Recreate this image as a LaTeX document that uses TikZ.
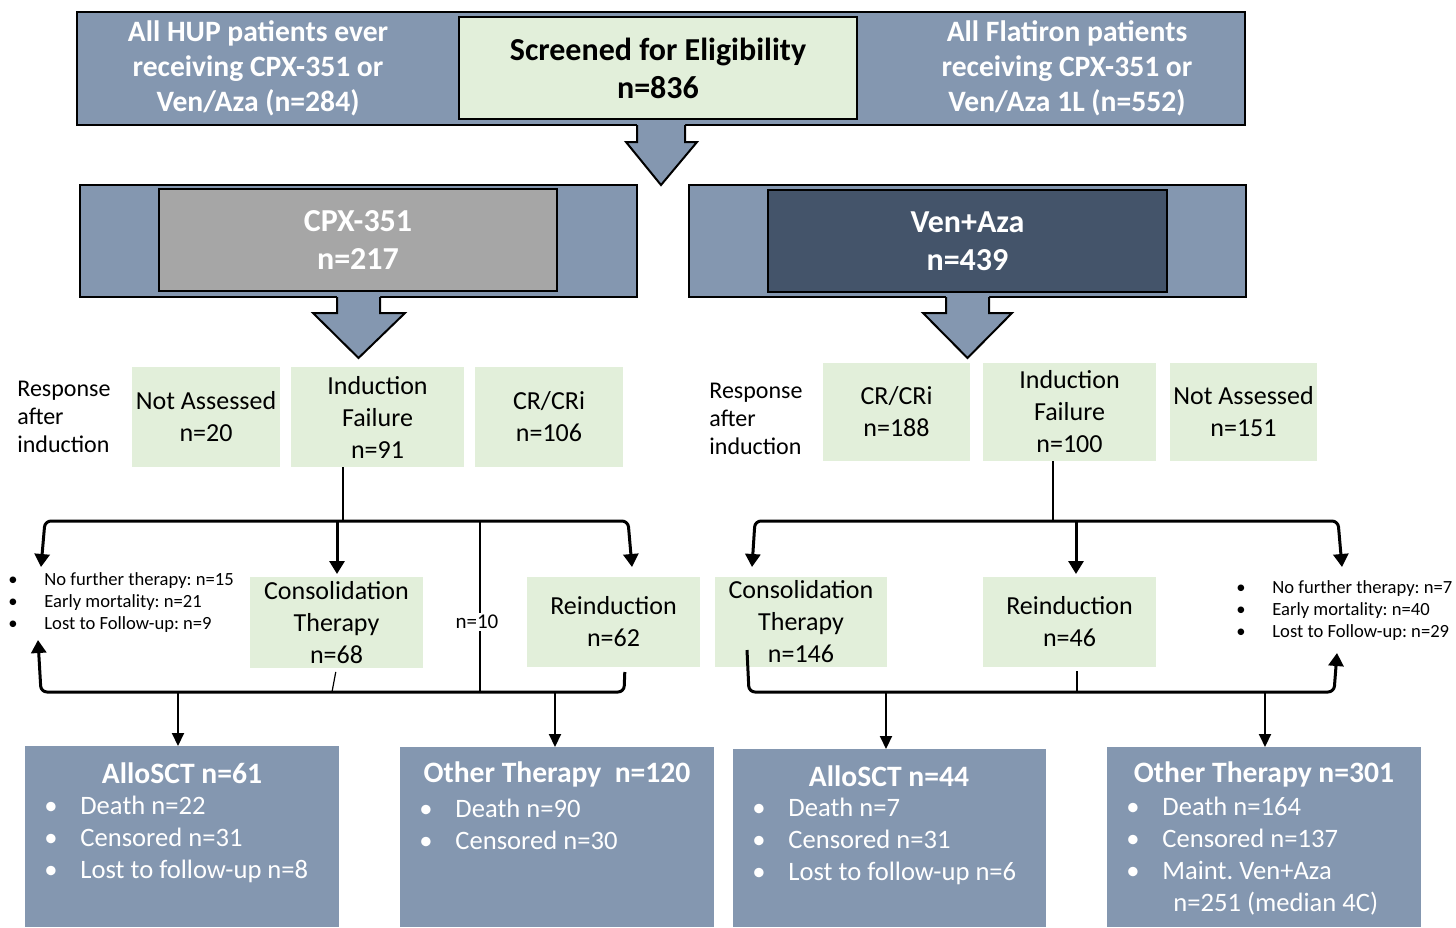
\documentclass[tikz,border=0pt]{standalone}
\usepackage{fontspec}
\setmainfont{Carlito}
\usetikzlibrary{arrows.meta,calc}
\definecolor{steel}{HTML}{8497B0}
\definecolor{lgreen}{HTML}{E2EFDA}
\definecolor{midgray}{HTML}{A6A6A6}
\definecolor{darkslate}{HTML}{44546A}
\frenchspacing
\begin{document}
\begin{tikzpicture}[x=0.5pt,y=-0.5pt,
  bx/.style 2 args={minimum width=#1*0.5pt, minimum height=#2*0.5pt, inner sep=0pt, outer sep=0pt},
  outerbox/.style={draw=black, line width=1pt, fill=steel},
  innerbox/.style={draw=black, line width=1pt, align=center, font=\bfseries\fontsize{16}{19}\selectfont},
  sidetext/.style={text=white, align=center, font=\bfseries\fontsize{14.8}{17.5}\selectfont},
  greenbox/.style={fill=lgreen, align=center, font=\fontsize{13}{16}\selectfont},
  resp/.style={align=left, inner sep=0pt, anchor=west, font=\fontsize{12}{14}\selectfont},
  smallbul/.style={align=left, inner sep=0pt, anchor=west, font=\fontsize{9.3}{11}\selectfont},
  botbox/.style={fill=steel},
  bottitle/.style={text=white, inner sep=0pt, font=\bfseries\fontsize{14.8}{16}\selectfont},
  botlist/.style={text=white, align=left, inner sep=0pt, anchor=west, font=\fontsize{13.3}{16}\selectfont},
  heavy/.style={line width=1.5pt, rounded corners=3pt, line join=round},
  tip/.style={-{Triangle[width=7.5pt,length=6.5pt]}},
  thinline/.style={line width=0.6pt},
  downarr/.style={line width=1pt, -{Triangle[width=6pt,length=6.5pt]}},
  blockfill/.style={fill=steel},
  blockdraw/.style={draw=black, line width=1pt, line join=miter}
]
\useasboundingbox (0,0) rectangle (1456,927);

% ---------- top row ----------
\node[outerbox, bx={1168}{113}] (top) at (661,68.5) {};
\node[innerbox, fill=lgreen, bx={398}{102}] (screen) at (658,68) {Screened for Eligibility\\n=836};
\node[sidetext] (hup) at (258,68.5) {All HUP patients ever\\receiving CPX-351 or\\Ven/Aza (n=284)};
\node[sidetext] (flat) at (1067,68.5) {All Flatiron patients\\receiving CPX-351 or\\Ven/Aza 1L (n=552)};

% block arrow 1
\fill[blockfill] (637,123.5) -- (637,142) -- (626,142) -- (661,185) -- (697,142) -- (685,142) -- (685,123.5) -- cycle;
\draw[blockdraw] (637,125) -- (637,142) -- (626,142) -- (661,185) -- (697,142) -- (685,142) -- (685,125);

% ---------- arm boxes ----------
\node[outerbox, bx={557}{112}] (cpxo) at (358.5,241) {};
\node[innerbox, fill=midgray, text=white, bx={398}{102}] (cpx) at (358,240) {CPX-351\\n=217};
\node[outerbox, bx={557}{112}] (veno) at (967.5,241) {};
\node[innerbox, fill=darkslate, text=white, bx={399}{102}] (ven) at (967.5,241) {Ven+Aza\\n=439};

% block arrows 2 and 3
\fill[blockfill] (337,296) -- (337,313) -- (313,313) -- (358.5,358) -- (405,313) -- (380,313) -- (380,296) -- cycle;
\draw[blockdraw] (337,297) -- (337,313) -- (313,313) -- (358.5,358) -- (405,313) -- (380,313) -- (380,297);
\fill[blockfill] (946,296) -- (946,313) -- (923,313) -- (967.5,358) -- (1012,313) -- (989,313) -- (989,296) -- cycle;
\draw[blockdraw] (946,297) -- (946,313) -- (923,313) -- (967.5,358) -- (1012,313) -- (989,313) -- (989,297);

% ---------- response row ----------
\node[resp] (resp1) at (17,417) {Response\\after\\induction};
\node[greenbox, bx={148}{100}] (na1) at (206,417) {Not Assessed\\n=20};
\node[greenbox, bx={173}{100}] (if1) at (377.5,417) {Induction\\Failure\\n=91};
\node[greenbox, bx={148}{100}] (cr1) at (549,417) {CR/CRi\\n=106};

\node[resp] (resp2) at (709,419) {Response\\after\\induction};
\node[greenbox, bx={147}{98}] (cr2) at (896.5,412) {CR/CRi\\n=188};
\node[greenbox, bx={173}{98}] (if2) at (1069.5,412) {Induction\\Failure\\n=100};
\node[greenbox, bx={147}{98}] (na2) at (1243.5,412) {Not Assessed\\n=151};

% ---------- second row ----------
\node[smallbul] (bulL) at (8,603) {\makebox[18pt][l]{\textbullet}No further therapy: n=15\\\makebox[18pt][l]{\textbullet}Early mortality: n=21\\\makebox[18pt][l]{\textbullet}Lost to Follow-up: n=9};
\node[greenbox, bx={173}{91}] (cons1) at (336.5,622.5) {Consolidation\\Therapy\\n=68};
\node[inner sep=1pt, font=\fontsize{10.5}{12}\selectfont] (n10) at (477,622) {n=10};
\node[greenbox, bx={173}{90}] (rein1) at (613.5,622) {Reinduction\\n=62};

\node[greenbox, bx={172}{90}] (cons2) at (801,622) {Consolidation\\Therapy\\n=146};
\node[greenbox, bx={173}{90}] (rein2) at (1069.5,622) {Reinduction\\n=46};
\node[smallbul] (bulR) at (1236,611) {\makebox[18pt][l]{\textbullet}No further therapy: n=7\\\makebox[18pt][l]{\textbullet}Early mortality: n=40\\\makebox[18pt][l]{\textbullet}Lost to Follow-up: n=29};

% ---------- bottom boxes ----------
\node[botbox, bx={314}{181}] (b1) at (182,836.5) {};
\node[botbox, bx={314}{180}] (b2) at (557,837) {};
\node[botbox, bx={313}{178}] (b3) at (889.5,838) {};
\node[botbox, bx={314}{180}] (b4) at (1264,837) {};

\node[bottitle] (t1) at (182,773) {AlloSCT n=61};
\node[bottitle] (t2) at (557,774) {Other Therapy\ \ n=120};
\node[bottitle] (t3) at (889,776) {AlloSCT n=44};
\node[bottitle] (t4) at (1264,774) {Other Therapy n=301};

\node[botlist] (l1) at (44,839) {\makebox[18pt][l]{\textbullet}Death n=22\\\makebox[18pt][l]{\textbullet}Censored n=31\\\makebox[18pt][l]{\textbullet}Lost to follow-up n=8};
\node[botlist] (l2) at (419,824) {\makebox[18pt][l]{\textbullet}Death n=90\\\makebox[18pt][l]{\textbullet}Censored n=30};
\node[botlist] (l3) at (752,841) {\makebox[18pt][l]{\textbullet}Death n=7\\\makebox[18pt][l]{\textbullet}Censored n=31\\\makebox[18pt][l]{\textbullet}Lost to follow-up n=6};
\node[botlist] (l4) at (1126,856) {\makebox[18pt][l]{\textbullet}Death n=164\\\makebox[18pt][l]{\textbullet}Censored n=137\\\makebox[18pt][l]{\textbullet}Maint. Ven+Aza\\\hspace*{23.5pt}n=251 (median 4C)};

% ---------- helper coordinates ----------
\coordinate (jL) at (343,521);
\coordinate (tipBulL) at (41,567);
\coordinate (tipRein1) at (632,567);
\coordinate (upBulL) at (38,640);
\coordinate (botL) at (332,692);
\coordinate (xa) at (337,521);
\coordinate (xn) at (480,521);
\coordinate (xnb) at (480,692);
\coordinate (xr) at (625,0);
\coordinate (d1) at (178,692);
\coordinate (d2) at (555,692);

\coordinate (jR) at (1053,521);
\coordinate (tipCons2) at (752,567);
\coordinate (tipBulR) at (1342,567);
\coordinate (c2s) at (747,650);
\coordinate (upBulR) at (1337,653);
\coordinate (xb) at (1076,521);
\coordinate (xc) at (1077,692);
\coordinate (d3) at (886,692);
\coordinate (d4) at (1265,692);

% ---------- connectors: left arm ----------
\draw[thinline] (if1.south -| jL) -- (jL);
\draw[heavy, {Triangle[width=7.5pt,length=6.5pt]}-{Triangle[width=7.5pt,length=6.5pt]}] (tipBulL) -- (45,521) -- (628,521) -- (tipRein1);
\draw[heavy, tip, shorten >=1.5pt] (xa) -- (cons1.north -| xa);
\draw[thinline] (xn) -- (n10.north -| xn);
\draw[thinline] (n10.south -| xn) -- (xnb);
\draw[heavy, tip, shorten <=2.5pt] (rein1.south -| xr) -- (624,692) -- (41,692) -- (upBulL);
\draw[thinline, shorten <=2pt] (cons1.south) -- (botL);
\draw[downarr] (d1) -- (b1.north -| d1);
\draw[downarr] (d2) -- (b2.north -| d2);

% ---------- connectors: right arm ----------
\draw[thinline] (if2.south -| jR) -- (jR);
\draw[heavy, {Triangle[width=7.5pt,length=6.5pt]}-{Triangle[width=7.5pt,length=6.5pt]}] (tipCons2) -- (755,521) -- (1338,521) -- (tipBulR);
\draw[heavy, tip, shorten >=1.5pt] (xb) -- (rein2.north -| xb);
\draw[heavy, tip] (c2s) -- (749,692) -- (1334,692) -- (upBulR);
\draw[thinline, shorten <=2pt] (rein2.south -| xc) -- (xc);
\draw[downarr] (d3) -- (b3.north -| d3);
\draw[downarr] (d4) -- (b4.north -| d4);
\end{tikzpicture}
\end{document}
